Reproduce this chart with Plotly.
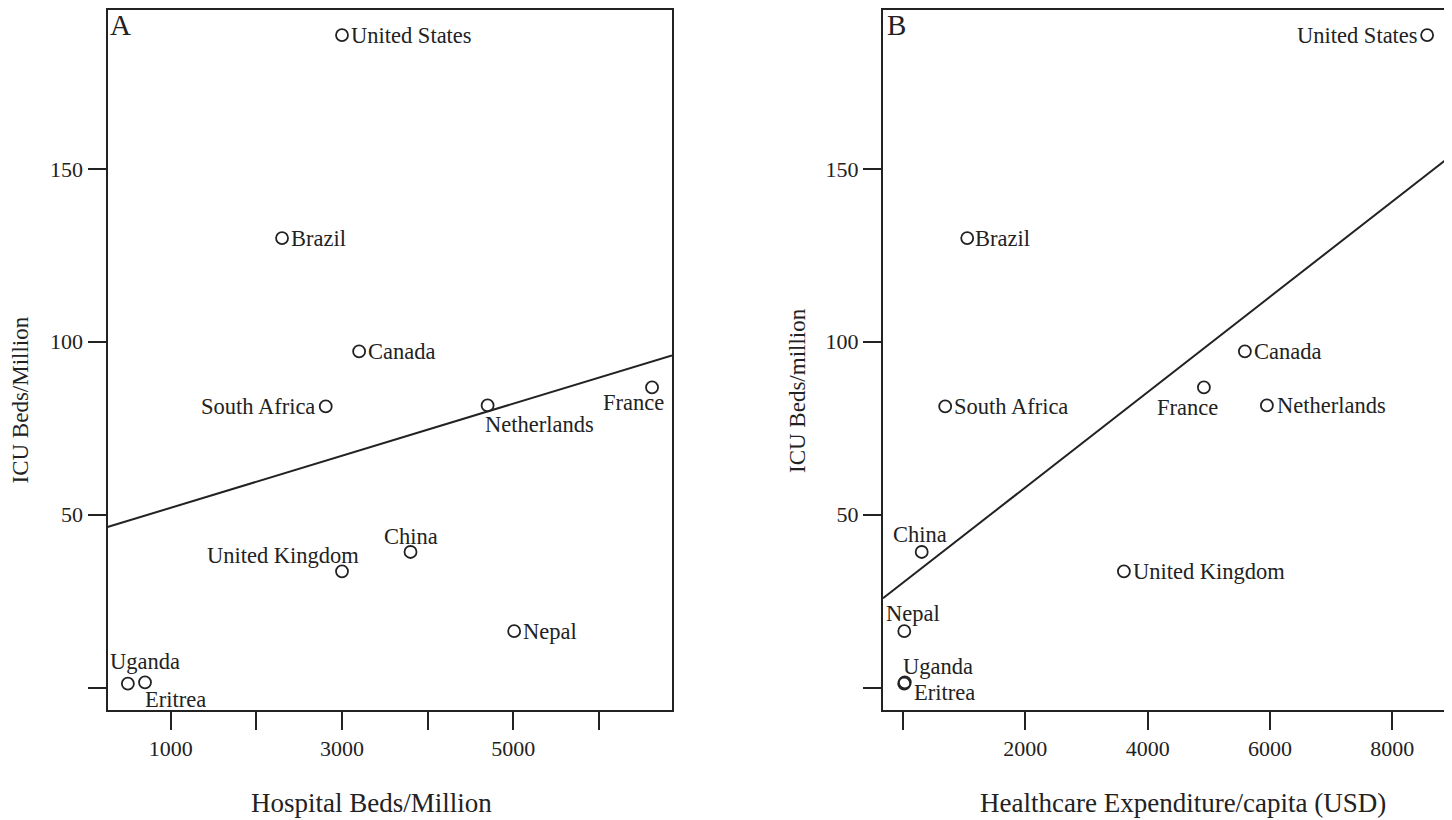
import numpy as np
import plotly.graph_objects as go

# ---------------- data ----------------
countries = ["United States", "Brazil", "Canada", "South Africa", "Netherlands",
             "France", "China", "United Kingdom", "Nepal", "Uganda", "Eritrea"]
icu_beds = [188.7, 130.0, 97.2, 81.3, 81.6, 86.8, 39.2, 33.6, 16.3, 1.1, 1.5]
hospital_beds = [3000, 2300, 3200, 2810, 4700, 6620, 3800, 3000, 5010, 500, 700]
expenditure = [8570, 1050, 5590, 690, 5950, 4920, 306, 3612, 21, 20, 30]

x_ticks_a = [1000, 2000, 3000, 4000, 5000, 6000]
x_ticktext_a = ["1000", "", "3000", "", "5000", ""]
x_ticks_b = [0, 2000, 4000, 6000, 8000]
x_ticktext_b = ["", "2000", "4000", "6000", "8000"]
y_ticks = [0, 50, 100, 150]
y_ticktext = ["", "50", "100", "150"]

# ---------------- styles ----------------
W, H = 1452, 820
OFF = 8  # page body margin in the browser
FONT = "Liberation Serif"
INK = "#222222"

# label placement (xanchor, xshift, yshift) per point, panel A / panel B
place_a = [("left", 7, 0), ("left", 7, 0), ("left", 7, 0), ("right", -9, 0),
           ("left", -5, -19), ("right", 14, -15), ("center", 0, 15), ("right", 19, 16),
           ("left", 7, 0), ("left", -20, 22), ("left", -2, -17)]
place_b = [("right", -7, 0), ("left", 6, 0), ("left", 7, 0), ("left", 7, 0),
           ("left", 8, 0), ("right", 16, -20), ("center", -2, 17), ("left", 7, 0),
           ("center", 9, 18), ("left", -3, 17), ("left", 7, -10)]

xr_a = [262, 6853]
xr_b = [-327, 8895]
yr = [-6.36, 196.1]

def px_x(p):
    return (p - OFF) / W

def px_y(p):
    return 1 - (p - OFF) / H

dom_a = [px_x(107.5), px_x(672)]
dom_b = [px_x(883), px_x(1447)]
dom_y = [px_y(709.5), px_y(9.5)]

fig = go.Figure()

marker = dict(symbol="circle-open", size=12, color=INK, line=dict(width=1.8, color=INK))

for xs, xa, ya, xr in [(hospital_beds, "x", "y", xr_a), (expenditure, "x2", "y2", xr_b)]:
    fig.add_trace(go.Scatter(x=xs, y=icu_beds, mode="markers", marker=marker,
                             xaxis=xa, yaxis=ya, showlegend=False, hoverinfo="text",
                             text=countries))
    slope, intercept = np.polyfit(np.array(xs, float), np.array(icu_beds, float), 1)
    lx = np.array(xr, float)
    fig.add_trace(go.Scatter(x=lx, y=slope * lx + intercept, mode="lines",
                             line=dict(color=INK, width=2), xaxis=xa, yaxis=ya,
                             showlegend=False, hoverinfo="skip"))

annotations = []
lab_font = dict(family=FONT, size=22.5, color=INK)
for xs, xref, yref, place in [(hospital_beds, "x", "y", place_a), (expenditure, "x2", "y2", place_b)]:
    for name, xv, yv, (anc, dx, dy) in zip(countries, xs, icu_beds, place):
        annotations.append(dict(x=xv, y=yv, xref=xref, yref=yref, text=name,
                                showarrow=False, xanchor=anc, yanchor="middle",
                                xshift=dx, yshift=dy, font=lab_font))

# panel letters
for letter, px in [("A", 108), ("B", 885)]:
    annotations.append(dict(x=px_x(px), y=px_y(25), xref="paper", yref="paper", text=letter,
                            showarrow=False, xanchor="left", yanchor="middle",
                            font=dict(family=FONT, size=29, color=INK)))

# axis titles
annotations.append(dict(x=px_x(371.5), y=px_y(803), xref="paper", yref="paper",
                        text="Hospital Beds/Million", showarrow=False, xanchor="center",
                        yanchor="middle", font=dict(family=FONT, size=27, color=INK)))
annotations.append(dict(x=px_x(1182.5), y=px_y(803), xref="paper", yref="paper",
                        text="Healthcare Expenditure/capita (USD)", showarrow=False,
                        xanchor="center", yanchor="middle",
                        font=dict(family=FONT, size=27, color=INK)))
annotations.append(dict(x=px_x(19.5), y=px_y(400), xref="paper", yref="paper",
                        text="ICU Beds/Million", showarrow=False, textangle=-90,
                        xanchor="center", yanchor="middle",
                        font=dict(family=FONT, size=23, color=INK)))
annotations.append(dict(x=px_x(797), y=px_y(391), xref="paper", yref="paper",
                        text="ICU Beds/million", showarrow=False, textangle=-90,
                        xanchor="center", yanchor="middle",
                        font=dict(family=FONT, size=23, color=INK)))

axis_common = dict(showline=True, mirror=True, linecolor=INK, linewidth=2,
                   ticks="outside", ticklen=18, tickwidth=2, tickcolor=INK,
                   showgrid=False, zeroline=False,
                   tickfont=dict(family=FONT, size=22, color=INK))

fig.update_layout(
    width=W, height=H,
    margin=dict(l=0, r=0, t=0, b=0),
    paper_bgcolor="white", plot_bgcolor="white",
    xaxis=dict(domain=dom_a, range=xr_a, tickmode="array", tickvals=x_ticks_a,
               ticktext=x_ticktext_a, anchor="y", **axis_common),
    yaxis=dict(domain=dom_y, range=yr, tickmode="array", tickvals=y_ticks,
               ticktext=y_ticktext, anchor="x", **axis_common),
    xaxis2=dict(domain=dom_b, range=xr_b, tickmode="array", tickvals=x_ticks_b,
                ticktext=x_ticktext_b, anchor="y2", **axis_common),
    yaxis2=dict(domain=dom_y, range=yr, tickmode="array", tickvals=y_ticks,
                ticktext=y_ticktext, anchor="x2", **axis_common),
    annotations=annotations,
    font=dict(family=FONT, color=INK),
)

fig.write_html("out.html")
